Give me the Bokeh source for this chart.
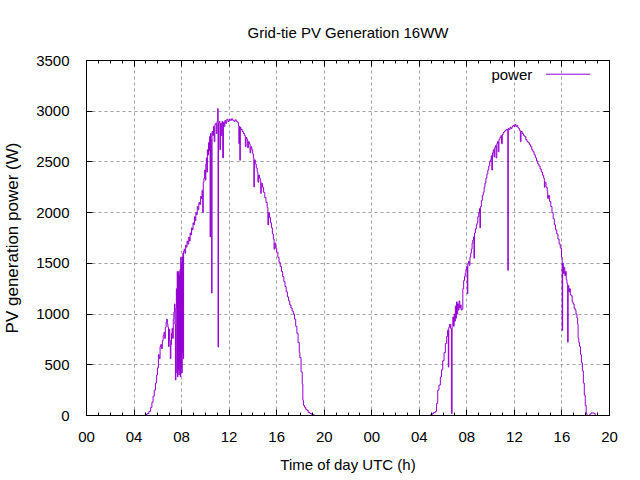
from bokeh.plotting import figure
from bokeh.models import Range1d, FixedTicker, LinearAxis, Label, ColumnDataSource
from bokeh.embed import file_html
from bokeh.resources import INLINE

# ---------------- data (hours since 00:00 of day 1, watts) ----------------
day1_t = [0.0, 4.85, 4.95, 5.1, 5.25, 5.4, 5.5, 5.6, 5.7, 5.8, 5.9, 5.97, 6.05, 6.12, 6.19,
          6.25, 6.3, 6.38, 6.45, 6.52, 6.58, 6.63, 6.7, 6.75, 6.8, 6.85, 6.9, 6.95, 7.0, 7.05,
          7.1, 7.15, 7.2, 7.25, 7.3, 7.35, 7.4, 7.44, 7.48, 7.52, 7.56, 7.6, 7.63, 7.66, 7.69,
          7.72, 7.75, 7.78, 7.81, 7.84, 7.87, 7.9, 7.93, 7.96, 7.99, 8.02, 8.05, 8.08, 8.11,
          8.14, 8.17, 8.22, 8.28, 8.34, 8.4, 8.46, 8.52, 8.6, 8.66, 8.72, 8.78, 8.84, 8.9, 8.96,
          9.02, 9.08, 9.14, 9.2, 9.26, 9.32, 9.38, 9.45, 9.52, 9.6, 9.66, 9.72, 9.78, 9.82, 9.88,
          9.94, 10.0, 10.04, 10.08, 10.12, 10.17, 10.22, 10.27, 10.32, 10.36, 10.4, 10.43, 10.48,
          10.53, 10.56, 10.62, 10.68, 10.74, 10.8, 10.86, 10.92, 10.98, 11.04, 11.07, 11.1,
          11.16, 11.22, 11.28, 11.34, 11.4, 11.46, 11.52, 11.58, 11.64, 11.7, 11.8, 11.9, 12.0,
          12.1, 12.2, 12.3, 12.4, 12.5, 12.6, 12.7, 12.78, 12.82, 12.86, 12.9, 12.94, 13.0, 13.1,
          13.2, 13.3, 13.36, 13.42, 13.5, 13.56, 13.62, 13.7, 13.76, 13.82, 13.9, 13.98, 14.04,
          14.08, 14.12, 14.2, 14.28, 14.36, 14.42, 14.48, 14.56, 14.62, 14.66, 14.7, 14.8, 14.9,
          15.0, 15.1, 15.2, 15.26, 15.32, 15.4, 15.48, 15.56, 15.64, 15.72, 15.78, 15.84, 15.92,
          16.0, 16.1, 16.2, 16.3, 16.4, 16.5, 16.6, 16.7, 16.8, 16.9, 17.0, 17.1, 17.2, 17.3,
          17.4, 17.5, 17.6, 17.7, 17.8, 17.9, 17.95, 18.05, 18.15, 18.2, 18.25, 18.35, 18.45,
          18.55, 18.65, 18.8, 18.95, 19.1, 19.2]
day1_w = [0, 0, 10, 20, 40, 80, 130, 190, 250, 320, 400, 470, 600, 560, 680,
          700, 660, 740, 790, 820, 760, 870, 920, 950, 900, 870, 680, 850, 740, 560,
          700, 810, 860, 760, 950, 1020, 1100, 900, 350, 1060, 1250, 420, 1420, 380, 1400,
          450, 1420, 400, 1380, 520, 1440, 380, 1560, 460, 1500, 420, 1560, 620, 1600,
          560, 1620, 1640, 1600, 1680, 1660, 1720, 1690, 1760, 1720, 1800, 1780, 1850, 1830, 1900,
          1880, 1960, 1920, 2000, 1980, 2060, 2030, 2100, 2080, 2160, 2140, 2220, 2000, 2300, 2340,
          2420, 2320, 2480, 2540, 2400, 2620, 2570, 2690, 2610, 2750, 1760, 2780, 2720,
          1207, 2800, 2760, 2850, 2700, 2870, 2880, 2780, 2900, 3027, 674, 2880,
          2900, 2620, 2880, 2760, 2900, 2540, 2890, 2850, 2910, 2880, 2920, 2900, 2920,
          2910, 2925, 2910, 2900, 2915, 2900, 2890, 2860, 2680, 2850, 2516, 2840, 2820, 2800,
          2780, 2760, 2650, 2740, 2720, 2640, 2700, 2680, 2590, 2650, 2620, 2580, 2540,
          2253, 2520, 2480, 2440, 2400, 2300, 2370, 2340, 2310, 2190, 2290, 2250, 2200,
          2150, 2100, 2050, 1880, 2000, 1950, 1900, 1850, 1790, 1740, 1640, 1700, 1650,
          1610, 1560, 1510, 1470, 1420, 1370, 1320, 1270, 1220, 1170, 1130, 1090, 1060, 1030,
          1000, 950, 880, 810, 720, 620, 570, 430, 310, 150, 100, 80, 60,
          50, 30, 20, 10, 5, 0]

day2_t = [24.0, 28.9, 28.95, 29.1, 29.2, 29.35, 29.45, 29.55, 29.65, 29.77, 29.87, 29.97, 30.08,
          30.19, 30.3, 30.38, 30.44, 30.48, 30.55, 30.62, 30.7, 30.76, 30.82, 30.88, 30.93,
          30.98, 31.03, 31.08, 31.13, 31.18, 31.23, 31.28, 31.34, 31.4, 31.46, 31.52, 31.6,
          31.66, 31.73, 31.8, 31.86, 31.92, 31.98, 32.04, 32.08, 32.14, 32.2, 32.26, 32.32,
          32.38, 32.44, 32.5, 32.56, 32.6, 32.64, 32.72, 32.8, 32.86, 32.92, 33.0, 33.06, 33.1,
          33.14, 33.22, 33.3, 33.38, 33.45, 33.52, 33.6, 33.68, 33.76, 33.84, 33.92, 33.98,
          34.05, 34.1, 34.15, 34.22, 34.28, 34.34, 34.4, 34.46, 34.52, 34.58, 34.64, 34.7,
          34.78, 34.86, 34.92, 34.98, 35.06, 35.14, 35.22, 35.3, 35.38, 35.45, 35.48, 35.56,
          35.64, 35.72, 35.8, 35.88, 35.96, 36.04, 36.12, 36.2, 36.28, 36.36, 36.44, 36.5,
          36.56, 36.66, 36.76, 36.86, 36.96, 37.06, 37.16, 37.26, 37.36, 37.46, 37.56, 37.66,
          37.76, 37.86, 37.96, 38.06, 38.16, 38.26, 38.36, 38.46, 38.52, 38.56, 38.66, 38.76,
          38.8, 38.86, 38.96, 39.06, 39.16, 39.26, 39.36, 39.46, 39.56, 39.66, 39.76, 39.86,
          39.96, 40.02, 40.06, 40.12, 40.18, 40.24, 40.3, 40.36, 40.42, 40.48, 40.52, 40.58,
          40.64, 40.7, 40.78, 40.86, 40.94, 41.02, 41.1, 41.18, 41.26, 41.32, 41.36, 41.42,
          41.48, 41.56, 41.64, 41.72, 41.8, 41.88, 41.96, 42.04, 42.1, 42.35, 42.45, 42.7,
          42.8, 44.0]
day2_w = [0, 0, 10, 20, 30, 40, 120, 250, 300, 380, 450, 540, 620,
          710, 780, 840, 477, 870, 900, 860, 20, 900, 970, 880, 1000,
          930, 1080, 960, 1120, 1000, 1100, 1040, 1130, 1060, 1090, 1040, 1050,
          1250, 1330, 1370, 1400, 1440, 1470, 1200, 1500, 1520, 1480, 1560, 1600,
          1640, 1700, 1730, 1760, 1550, 1800, 1840, 1880, 1900, 1960, 2000, 2040, 1850,
          2060, 2120, 2170, 2200, 2250, 2290, 2340, 2380, 2420, 2460, 2500, 2520,
          2560, 2420, 2590, 2620, 2550, 2640, 2660, 2540, 2680, 2700, 2600, 2720,
          2740, 2760, 2680, 2770, 2790, 2800, 2810, 2820, 2820, 1431, 2830, 2820,
          2840, 2830, 2850, 2860, 2850, 2870, 2850, 2860, 2840, 2830, 2810, 2700,
          2800, 2780, 2760, 2750, 2720, 2700, 2690, 2670, 2650, 2620, 2600, 2570,
          2540, 2510, 2480, 2460, 2430, 2400, 2370, 2340, 2250, 2300, 2250, 2210,
          2140, 2170, 2110, 2060, 2000, 1940, 1880, 1830, 1790, 1740, 1690, 1650,
          1560, 839, 1500, 1400, 1460, 1380, 1420, 1340, 1300, 723, 1280, 1220,
          1250, 1190, 1180, 1120, 1100, 1060, 1040, 1000, 960, 900, 760, 720,
          680, 600, 520, 440, 320, 200, 100, 20, 0, 15, 25, 20,
          0, 0]

x_ticks = [0, 4, 8, 12, 16, 20, 24, 28, 32, 36, 40, 44]
x_tick_labels = ["00", "04", "08", "12", "16", "20", "00", "04", "08", "12", "16", "20"]
x_minor = list(range(0, 45))
y_ticks = [0, 500, 1000, 1500, 2000, 2500, 3000, 3500]

series_name = "power"
title_text = "Grid-tie PV Generation 16WW"
x_label = "Time of day UTC (h)"
y_label = "PV generation power (W)"

FONT = "Liberation Sans"
COLOR = "#9400D3"

src = ColumnDataSource(data=dict(t=day1_t + day2_t, w=day1_w + day2_w))

p = figure(width=640, height=480, output_backend="svg", toolbar_location=None,
           x_range=Range1d(0, 44), y_range=Range1d(0, 3500),
           min_border_left=86, min_border_right=31, min_border_top=60, min_border_bottom=65)
p.background_fill_color = "white"
p.border_fill_color = "white"
p.outline_line_color = "black"
p.outline_line_width = 1
p.outline_line_alpha = 1.0

xt = FixedTicker(ticks=x_ticks, minor_ticks=x_minor)
yt = FixedTicker(ticks=y_ticks, minor_ticks=[])

def style_axis(ax):
    ax.axis_line_color = "black"
    ax.major_tick_line_color = "black"
    ax.minor_tick_line_color = "black"
    ax.major_tick_in = 6
    ax.major_tick_out = 0
    ax.minor_tick_in = 3
    ax.minor_tick_out = 0
    ax.major_label_text_font = FONT
    ax.major_label_text_font_size = "15px"
    ax.major_label_text_color = "black"
    ax.axis_label_text_font = FONT
    ax.axis_label_text_font_style = "normal"
    ax.axis_label_text_color = "black"

xa = p.xaxis[0]
xa.ticker = xt
xa.major_label_overrides = {t: lab for t, lab in zip(x_ticks, x_tick_labels)}
style_axis(xa)
xa.major_label_standoff = 16
xa.axis_label = x_label
xa.axis_label_text_font_size = "15px"
xa.axis_label_standoff = 11

ya = p.yaxis[0]
ya.ticker = yt
style_axis(ya)
ya.minor_tick_in = 0
ya.major_label_standoff = 17
ya.axis_label = y_label
ya.axis_label_text_font_size = "17px"
ya.axis_label_standoff = 11

# mirrored tick marks on the top and right borders (no labels)
top = LinearAxis(ticker=xt)
style_axis(top)
top.major_label_overrides = {t: "" for t in x_ticks}
top.major_label_standoff = 0
p.add_layout(top, "above")

right = LinearAxis(ticker=yt)
style_axis(right)
right.minor_tick_in = 0
right.major_label_overrides = {t: "" for t in y_ticks}
right.major_label_standoff = 0
p.add_layout(right, "right")

for g, tk in ((p.xgrid[0], xt), (p.ygrid[0], yt)):
    g.ticker = tk
    g.grid_line_color = "#a0a0a0"
    g.grid_line_dash = "3 3"
    g.grid_line_width = 1

p.title.text = title_text
p.title.align = "center"
p.title.text_font = FONT
p.title.text_font_size = "15px"
p.title.text_font_style = "normal"
p.title.text_color = "black"
p.title.standoff = 40

p.step(x="t", y="w", source=src, mode="after", line_color=COLOR, line_width=1)

# legend (text left of sample line, as in the reference)
leg_x_text, leg_x0, leg_x1, leg_y = 37.5, 38.66, 42.38, 3365
p.add_layout(Label(x=leg_x_text, y=leg_y, text=series_name, text_align="right",
                   text_baseline="middle", text_font=FONT, text_font_size="15px",
                   text_color="black"))
p.segment(x0=[leg_x0], y0=[leg_y], x1=[leg_x1], y1=[leg_y], line_color=COLOR, line_width=1)

open("out.html", "w").write(file_html(p, INLINE))
